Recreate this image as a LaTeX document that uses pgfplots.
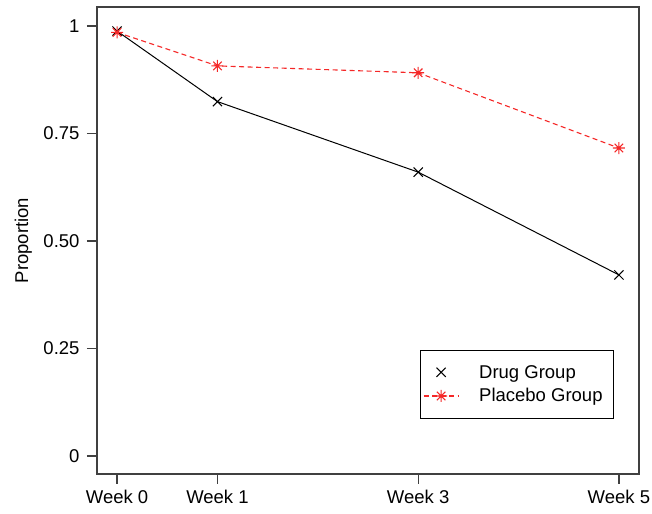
\documentclass[border=0pt]{standalone}
\usepackage{pgfplots}
\pgfplotsset{compat=1.18}
\usepackage{fontspec}
\setmainfont{Liberation Sans}
\pgfdeclareplotmark{rstar}{%
  \pgfpathmoveto{\pgfqpoint{-\pgfplotmarksize}{0pt}}\pgfpathlineto{\pgfqpoint{\pgfplotmarksize}{0pt}}%
  \pgfpathmoveto{\pgfqpoint{0pt}{-\pgfplotmarksize}}\pgfpathlineto{\pgfqpoint{0pt}{\pgfplotmarksize}}%
  \pgfpathmoveto{\pgfqpoint{-.7071\pgfplotmarksize}{-.7071\pgfplotmarksize}}\pgfpathlineto{\pgfqpoint{.7071\pgfplotmarksize}{.7071\pgfplotmarksize}}%
  \pgfpathmoveto{\pgfqpoint{-.7071\pgfplotmarksize}{.7071\pgfplotmarksize}}\pgfpathlineto{\pgfqpoint{.7071\pgfplotmarksize}{-.7071\pgfplotmarksize}}%
  \pgfusepathqstroke}
\definecolor{rred}{RGB}{245,40,40}
\pgfplotsset{
  markleg/.style={legend image code/.code={\draw[##1] plot[only marks] coordinates {(17.5bp,0bp)};}},
  lineleg/.style={legend image code/.code={\draw[mark repeat=2, mark phase=2, ##1] plot coordinates {(0bp,0bp) (17.5bp,0bp) (35bp,0bp)};}},
}
\begin{document}
\begin{tikzpicture}
\path[use as bounding box] (-97bp,-40bp) rectangle (555bp,474bp);
\begin{axis}[
  at={(0,0)}, anchor=south west,
  scale only axis, width=542bp, height=467bp,
  xmin=-0.2, xmax=5.2, ymin=-0.042, ymax=1.044,
  font=\fontsize{18.5bp}{22bp}\selectfont,
  /pgf/number format/assume math mode=true,
  axis line style={black!75, line width=1.3bp},
  tick style={black!75, line width=1.3bp},
  tick align=outside, major tick length=10bp,
  xtick pos=bottom, ytick pos=left,
  xtick={0,1,3,5}, xticklabels={Week 0,Week 1,Week 3,Week 5},
  ytick={0,0.25,0.5,0.75,1}, yticklabels={0,0.25,0.50,0.75,1},
  yticklabel style={xshift=-4bp},
  xticklabel style={yshift=-3bp},
  every axis y label/.style={at={(axis description cs:-0.136,0.5)}, rotate=90, anchor=center},
  ylabel={Proportion},
  legend style={at={(0.954,0.118)}, anchor=south east, draw=black, line width=1bp,
    inner xsep=3bp, inner ysep=13bp, row sep=5bp, column sep=18bp, cells={anchor=west},
    font=\fontsize{18.5bp}{22bp}\selectfont},
  legend cell align=left,
]
\addplot[black, line width=1bp, mark=x, mark size=6.5bp, markleg]
  coordinates {(0,0.988) (1,0.824) (3,0.660) (5,0.421)};
\addlegendentry{Drug Group}
\addplot[rred, line width=1.1bp, dash pattern=on 5bp off 3.5bp, mark=rstar, mark size=6bp,
  mark options={solid}, lineleg]
  coordinates {(0,0.985) (1,0.907) (3,0.891) (5,0.716)};
\addlegendentry{Placebo Group\hspace*{6bp}}
\end{axis}
\end{tikzpicture}
\end{document}
